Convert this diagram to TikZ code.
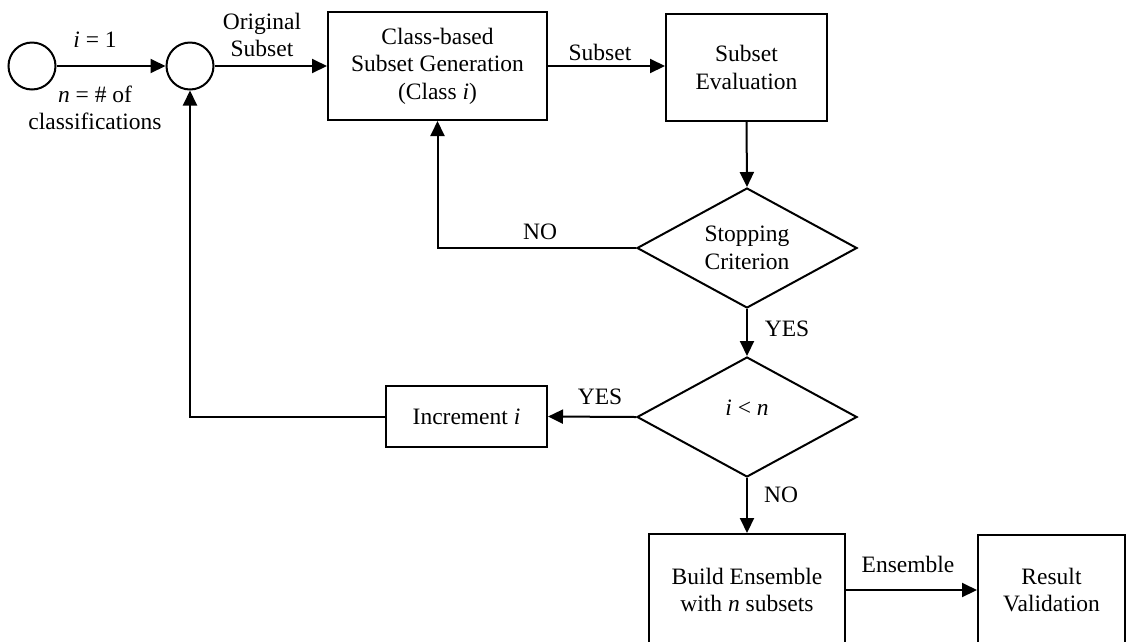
\documentclass[tikz,border=0pt]{standalone}
\usepackage{fontspec}
\setmainfont{Liberation Serif}
\usetikzlibrary{arrows.meta,shapes.geometric}
\begin{document}
\begin{tikzpicture}[x=1pt,y=-1pt,
  every node/.style={font=\fontsize{23.5}{27.5}\selectfont, inner sep=0pt},
  line/.style={line width=2pt},
  arr/.style={line width=2pt,-{Triangle[length=15pt,width=14pt]}},
  boxnode/.style={draw,line width=2pt,rectangle,align=center},
  dec/.style={draw,line width=2pt,shape=diamond,aspect=1.83,minimum width=220pt,minimum height=120pt,align=center},
  circ/.style={draw,line width=2pt,circle,minimum size=47pt},
  lbl/.style={align=center}]
\path[use as bounding box,clip] (0,0) rectangle (1126,641);
\node[circ] (c1) at (32,66) {};
\node[circ] (c2) at (190,66) {};
\node[boxnode,minimum width=219pt,minimum height=108pt] (gen) at (437.5,66) {Class-based\\Subset Generation\\(Class \textit{i})};
\node[boxnode,minimum width=161pt,minimum height=107pt] (eval) at (746.5,67.5) {Subset\\Evaluation};
\node[dec] (d1) at (747,248) {Stopping\\Criterion};
\node[dec] (d2) at (747,417) {\raisebox{18pt}{\textit{i} < \textit{n}}};
\node[boxnode,minimum width=161pt,minimum height=61pt] (inc) at (466.5,416.5) {Increment \textit{i}};
\node[boxnode,minimum width=196pt,minimum height=112pt] (build) at (747,590) {Build Ensemble\\with \textit{n} subsets};
\node[boxnode,minimum width=147pt,minimum height=110pt] (res) at (1051.5,590) {Result\\Validation};

\draw[arr] (c1.east) -- (c2.west);
\draw[arr] (c2.east) -- (gen.west);
\draw[arr] (gen.east) -- (gen.east -| eval.west);
\draw[arr] (eval.south) -- (d1.north);
\draw[arr] (d1.west) -| (gen.south);
\draw[arr] (d1.south) -- (d2.north);
\draw[arr] (d2.west) -- (inc.east);
\draw[arr] (inc.west) -| (c2.south);
\draw[arr] (d2.south) -- (build.north);
\draw[arr] (build.east) -- (build.east -| res.west);

\node[lbl] (l1) at (95,40) {\textit{i} = 1};
\node[lbl] (l2) at (95,108) {\textit{n} = \# of\\classifications};
\node[lbl] (l3) at (262,35) {Original\\Subset};
\node[lbl] (l4) at (600,52) {Subset};
\node[lbl] (l5) at (540,232) {NO};
\node[lbl] (l6) at (787,329) {YES};
\node[lbl] (l7) at (600,397) {YES};
\node[lbl] (l8) at (781,495) {NO};
\node[lbl] (l9) at (908,564) {Ensemble};
\end{tikzpicture}
\end{document}
